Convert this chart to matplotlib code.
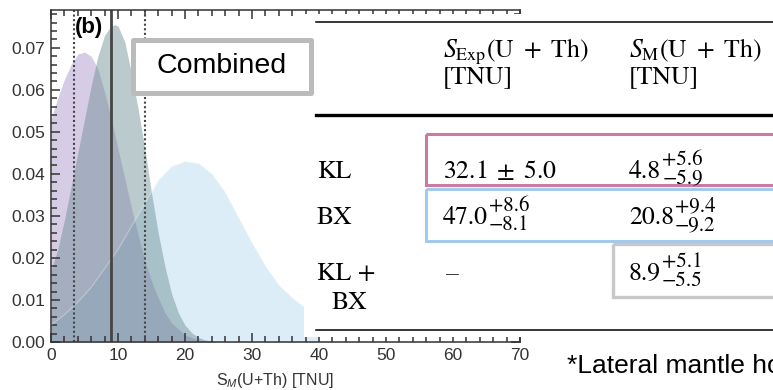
import matplotlib
matplotlib.use("Agg")
import matplotlib.pyplot as plt
from matplotlib.patches import Rectangle
from matplotlib.ticker import MultipleLocator

plt.rcParams["font.family"] = ["Liberation Sans", "DejaVu Sans"]
plt.rcParams["mathtext.fontset"] = "custom"
plt.rcParams["mathtext.rm"] = "Liberation Sans"
plt.rcParams["mathtext.it"] = "Liberation Sans:italic"

# posterior densities of the mantle signal
kl_x = [0, 1, 2, 3, 4, 5, 6, 7, 8, 9, 10, 11, 12, 13, 14, 15, 16, 17, 18, 20, 22, 24]
kl_y = [0.053, 0.058, 0.0625, 0.066, 0.0685, 0.069, 0.068, 0.065, 0.0595, 0.053, 0.046,
        0.039, 0.032, 0.0255, 0.0195, 0.0145, 0.0105, 0.007, 0.0045, 0.0017, 0.0005, 0.0]

comb_x = [0, 1, 2, 3, 4, 5, 6, 7, 8, 9, 9.5, 10, 11, 12, 13, 14, 15, 16, 17, 18, 19,
          20, 21, 22, 23, 25]
comb_y = [0.017, 0.022, 0.029, 0.037, 0.045, 0.053, 0.061, 0.068, 0.073, 0.0752, 0.0755,
          0.0752, 0.0715, 0.064, 0.0555, 0.046, 0.0355, 0.026, 0.018, 0.0115, 0.007,
          0.004, 0.0022, 0.0011, 0.0005, 0.0]

bx_x = [0, 2, 4, 6, 8, 10, 12, 14, 16, 18, 20, 22, 24, 26, 28, 30, 32, 34, 36, 38, 40]
bx_y = [0.004, 0.0065, 0.0095, 0.013, 0.0175, 0.022, 0.0275, 0.033, 0.0385, 0.0418,
        0.043, 0.0425, 0.040, 0.0355, 0.0295, 0.0235, 0.018, 0.0135, 0.0105, 0.008, 0.006]

# table values: (central, +err, -err)
exp_kl = (32.1, 5.0)
exp_bx = (47.0, 8.6, 8.1)
sm_kl = (4.8, 5.6, 5.9)
sm_bx = (20.8, 9.4, 9.2)
sm_comb = (8.9, 5.1, 5.5)

row_labels = ["KL", "BX", "KL +"]

fig = plt.figure(figsize=(7.73, 3.9), dpi=100)
W, H = 773, 390
ax = fig.add_axes([51 / W, 1 - 342 / H, (520 - 51) / W, (342 - 10) / H])

ax.fill_between(bx_x, bx_y, color="#BBDDF1", alpha=0.5, lw=0)
ax.fill_between(kl_x, kl_y, color="#8A6FB5", alpha=0.35, lw=0)
ax.fill_between(comb_x, comb_y, color="#6A8B90", alpha=0.45, lw=0)
ax.plot(bx_x, bx_y, color="#E6F0F6", lw=0.8, alpha=0.35)

best, up, lo = sm_comb
ax.axvline(best, color="#454545", lw=2)
ax.axvline(best - lo, color="#454545", lw=1.5, ls=(0, (1, 1.2)))
ax.axvline(best + up, color="#454545", lw=1.5, ls=(0, (1, 1.2)))

ax.set_xlim(0, 70)
ax.set_ylim(0, 0.079)
ax.xaxis.set_major_locator(MultipleLocator(10))
ax.xaxis.set_minor_locator(MultipleLocator(2))
ax.yaxis.set_major_locator(MultipleLocator(0.01))
ax.yaxis.set_minor_locator(MultipleLocator(0.002))
ax.yaxis.set_major_formatter(lambda v, p: f"{v:.2f}")
ax.tick_params(which="both", direction="in", top=True, right=True, colors="#333333",
               width=1.1, labelsize=12.5, labelcolor="#333333")
ax.tick_params(axis="x", pad=4)
ax.tick_params(axis="y", pad=4)
ax.tick_params(which="major", length=6.5)
ax.tick_params(which="minor", length=4.3)
for s in ax.spines.values():
    s.set_color("#333333")
    s.set_linewidth(1.1)

ax.set_xlabel(r"S$_M$(U+Th) [TNU]", fontsize=11.5, color="#333333")
ax.xaxis.set_label_coords((275 - 51) / 469, (342 - 380) / 332)
ax.xaxis.label.set_va("center")

# overlay in pixel coordinates for the table and labels
ov = fig.add_axes([0, 0, 1, 1], zorder=10)
ov.set_xlim(0, W)
ov.set_ylim(H, 0)
ov.axis("off")
ov.patch.set_visible(False)
renderer = fig.canvas.get_renderer()

ov.add_patch(Rectangle((304, 14), 480, 323, facecolor="white", edgecolor="none"))

ov.text(89, 28, "(b)", fontsize=16, fontweight="bold", ha="center", va="center")

ov.add_patch(Rectangle((133, 40), 178, 53, facecolor="white", edgecolor="#BBBBBB",
                       lw=3.6, joinstyle="round"))
ov.text(222, 66, "Combined", fontsize=20.5, ha="center", va="center")

# table rules
ov.plot([316, 790], [21.5, 21.5], color="black", lw=1.1)
ov.plot([316, 790], [115, 115], color="black", lw=2.4)
ov.plot([316, 790], [330, 330], color="black", lw=1.1)

tfs = 18.5
serif = dict(fontsize=tfs, family="STIXGeneral", math_fontfamily="stix", va="baseline")
script = dict(fontsize=15, family="STIXGeneral", va="baseline")


def with_errors(x, yb, vals):
    # central value followed by stacked +/- errors
    t = ov.text(x, yb, f"{vals[0]:.1f}", **serif)
    xr = t.get_window_extent(renderer).x1 + 1
    ov.text(xr, yb - 13, f"+{vals[1]:.1f}", **script)
    ov.text(xr, yb + 6, f"\u2212{vals[2]:.1f}", **script)


ov.text(443, 57, r"$S_{\mathrm{Exp}}(\mathrm{U}\ +\ \mathrm{Th})$", **serif)
ov.text(443, 83, "[TNU]", **serif)
ov.text(629, 57, r"$S_{\mathrm{M}}(\mathrm{U}\ +\ \mathrm{Th})$", **serif)
ov.text(629, 83, "[TNU]", **serif)

row_base = [178, 224, 280]
for lab, yb in zip(row_labels, row_base):
    ov.text(317, yb, lab, **serif)
ov.text(332, 309, "BX", **serif)

ov.text(443, row_base[0], r"$%.1f\;\pm\;%.1f$" % exp_kl, **serif)
with_errors(443, row_base[1], exp_bx)
ov.text(446, row_base[2], "–", **serif)

with_errors(629, row_base[0], sm_kl)
with_errors(629, row_base[1], sm_bx)
with_errors(629, row_base[2], sm_comb)

# highlight boxes around table rows
ov.add_patch(Rectangle((426, 134), 400, 51, facecolor="none", edgecolor="#C97BA2", lw=2.2))
ov.add_patch(Rectangle((426, 189), 400, 52, facecolor="none", edgecolor="#A3C9EC", lw=2.2))
ov.add_patch(Rectangle((613, 244), 200, 53, facecolor="none", edgecolor="#C8C8C8", lw=2.4))

ov.text(567, 373, "*Lateral mantle homogeneous", fontsize=19, va="baseline")

fig.savefig("out.png", dpi=100)
